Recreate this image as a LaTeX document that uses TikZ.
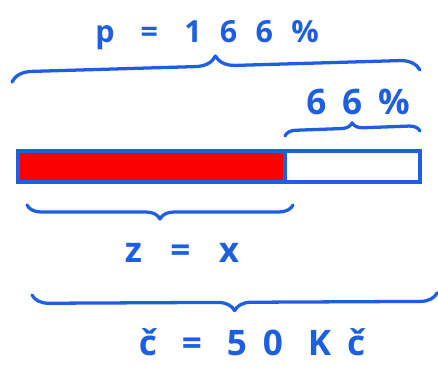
\documentclass[tikz,border=0pt]{standalone}
\usepackage{fontspec}
\newfontfamily\handfont[LetterSpace=40,WordSpace=1.0]{Open Sans}
\usetikzlibrary{decorations.pathreplacing,positioning,calc}
\definecolor{penblue}{RGB}{30,95,225}
\definecolor{inkred}{RGB}{250,0,0}

\begin{document}
\begin{tikzpicture}[
    part/.style={rectangle, draw=penblue, line width=2.8pt, minimum height=0.93cm, inner sep=0pt, outer sep=0pt},
    brace/.style={decorate, decoration={brace, amplitude=#1}, draw=penblue, line width=2.8pt, line cap=round, line join=round},
    handtext/.style={text=penblue, anchor=base, inner sep=0pt},
]
\useasboundingbox (0,0) rectangle (13.14,11.01);
\node[part, fill=inkred, minimum width=8.01cm, anchor=south west] (spent) at (0.54,5.55) {};
\node[part, fill=white, minimum width=4.05cm, right=0pt of spent] (rest) {};
\coordinate (totalL) at (0.36,8.55);
\coordinate (totalR) at (12.6,8.91);
\coordinate (priceR) at (13.11,2.22);
\coordinate (priceL) at (0.96,2.16);
\draw[brace=0.6cm] (totalL) -- (totalR);
\draw[brace=0.32cm] ([yshift=0.45cm]rest.north west) -- ([yshift=0.6cm]rest.north east);
\draw[brace=0.42cm] ([shift={(0.24,-0.69)}]spent.south east) -- ([shift={(0.27,-0.69)}]spent.south west);
\draw[brace=0.5cm] (priceR) -- (priceL);
\node[handtext, font=\handfont\bfseries\addfontfeature{LetterSpace=60}\fontsize{26}{30}\selectfont] (total) at (6.21,9.72) {p = 166\%};
\node[handtext, font=\handfont\bfseries\addfontfeature{LetterSpace=45}\fontsize{30}{34}\selectfont] (share) at (10.74,7.56) {66\%};
\node[handtext, font=\handfont\bfseries\addfontfeature{LetterSpace=55}\fontsize{30}{34}\selectfont] (part) at (5.46,3.12) {z = x};
\node[handtext, font=\handfont\bfseries\addfontfeature{LetterSpace=45}\fontsize{30}{34}\selectfont] (price) at (7.56,0.34) {č = 50 Kč};
\end{tikzpicture}
\end{document}
